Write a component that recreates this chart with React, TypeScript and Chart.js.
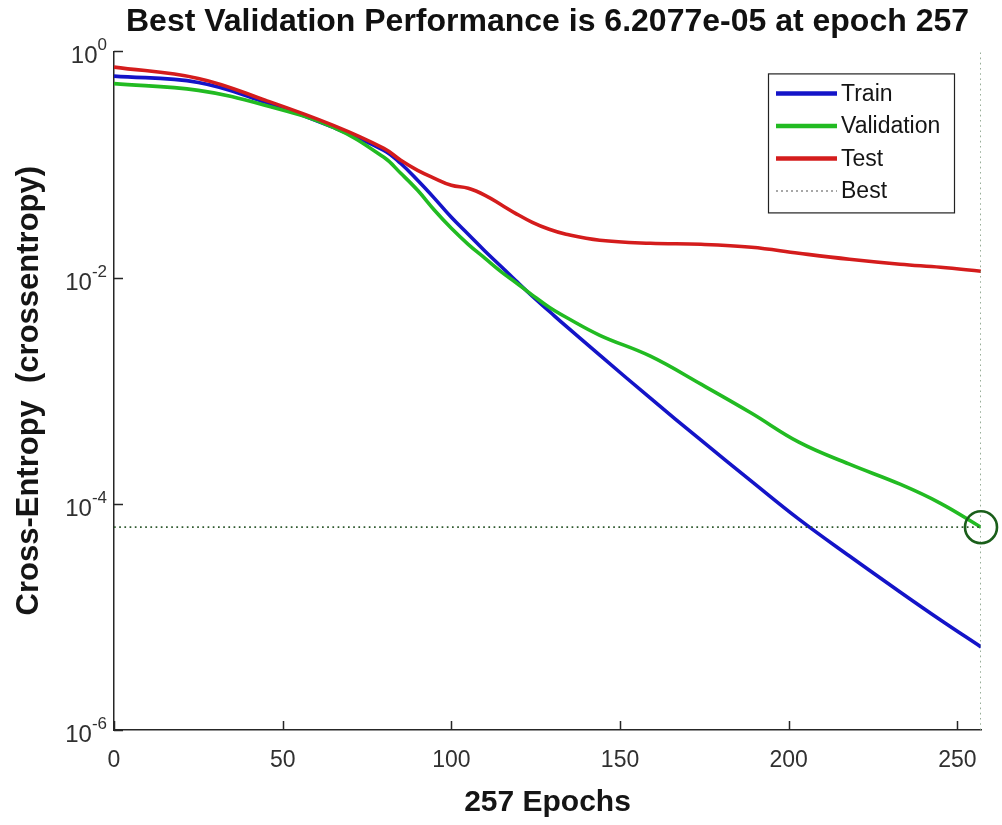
import React, { useEffect, useRef } from "react";
import { Chart, registerables } from "chart.js";

Chart.register(...registerables);

// ---------- data ----------
const epochs = [0, 25, 45, 65, 80, 85, 90, 95, 100, 105, 110, 115, 119, 124, 129, 134, 144, 159, 174, 189, 203, 218, 233, 245, 257];
const trainPerf = [0.605, 0.532, 0.354, 0.213, 0.1334, 0.102, 0.0725, 0.0502, 0.0341, 0.02415, 0.0171, 0.01234, 0.00946, 0.00684, 0.00504, 0.00372, 0.00206, 0.000859, 0.000365, 0.000158, 7.32e-5, 3.45e-5, 1.66e-5, 9.38e-6, 5.42e-6];
const validationPerf = [0.519, 0.452, 0.333, 0.213, 0.1157, 0.0836, 0.0591, 0.0394, 0.0273, 0.0197, 0.0148, 0.01114, 0.0091, 0.0070, 0.00547, 0.00446, 0.00309, 0.00202, 0.001142, 0.000632, 0.000351, 0.000224, 0.000149, 0.000101, 6.2077e-5];
const testPerf = [0.727, 0.577, 0.369, 0.222, 0.139, 0.109, 0.0888, 0.0755, 0.0655, 0.0616, 0.0534, 0.0436, 0.037, 0.0308, 0.02673, 0.02415, 0.02138, 0.0201, 0.0197, 0.01854, 0.0164, 0.01452, 0.01312, 0.01234, 0.01138];

const bestEpoch = 257;
const bestPerf = 6.2077e-5;
const maxEpoch = 257;

const xTickValues = [0, 50, 100, 150, 200, 250];
const yTickValues = [1e-6, 1e-4, 1e-2, 1];
const yTickExponents = ["-6", "-4", "-2", "0"];

const legendLabels = ["Train", "Validation", "Test", "Best"];

const titleText = "Best Validation Performance is 6.2077e-05 at epoch 257";
const xTitle = "257 Epochs";
const yTitle = "Cross-Entropy  (crossentropy)";

// ---------- styles ----------
const FONT = '"Liberation Sans", Arial, Helvetica, sans-serif';
const AXIS_COLOR = "#262626";
const TICK_TEXT = "#303030";
const COLORS = {
  train: "#1414c8",
  validation: "#22bb22",
  test: "#d41c1c",
  best: "#2f5a2f",
  bestV: "#7f9a7f",
  circle: "#1a5e1a",
};

const toPoints = (xs: number[], ys: number[]) => xs.map((x, i) => ({ x, y: ys[i] }));

const decorPlugin = {
  id: "matlabDecor",
  afterDraw(chart: any) {
    const ctx = chart.ctx as CanvasRenderingContext2D;
    const xs = chart.scales.x;
    const ys = chart.scales.y;
    const area = chart.chartArea;
    ctx.save();

    // inward tick marks
    ctx.strokeStyle = AXIS_COLOR;
    ctx.lineWidth = 1.5;
    ctx.beginPath();
    xTickValues.forEach((v) => {
      const px = Math.round(xs.getPixelForValue(v)) + 0.5;
      ctx.moveTo(px, area.bottom);
      ctx.lineTo(px, area.bottom - 9);
    });
    yTickValues.forEach((v) => {
      const py = Math.round(ys.getPixelForValue(v)) + 0.5;
      ctx.moveTo(area.left, py);
      ctx.lineTo(area.left + 9, py);
    });
    ctx.stroke();

    // y tick labels 10^n
    const baseFont = `24px ${FONT}`;
    const expFont = `17px ${FONT}`;
    ctx.fillStyle = TICK_TEXT;
    ctx.textBaseline = "alphabetic";
    ctx.textAlign = "left";
    yTickValues.forEach((v, i) => {
      const py = ys.getPixelForValue(v);
      const exp = yTickExponents[i];
      ctx.font = expFont;
      const ew = ctx.measureText(exp).width;
      ctx.font = baseFont;
      const bw = ctx.measureText("10").width;
      const right = area.left - 7;
      ctx.fillText("10", right - ew - bw, py + 12);
      ctx.font = expFont;
      ctx.fillText(exp, right - ew, py - 1);
    });

    // legend
    const ds = chart.data.datasets;
    const bw = 186;
    const bh = 139;
    const bx = area.right - 213;
    const by = area.top + 22;
    ctx.fillStyle = "#ffffff";
    ctx.fillRect(bx, by, bw, bh);
    ctx.strokeStyle = "#222";
    ctx.lineWidth = 1.2;
    ctx.strokeRect(bx + 0.5, by + 0.5, bw, bh);
    ctx.font = `23px ${FONT}`;
    ctx.textBaseline = "middle";
    ctx.textAlign = "left";
    legendLabels.forEach((lab, i) => {
      const ly = by + 20 + i * 32.5;
      const d = ds[i];
      ctx.beginPath();
      ctx.strokeStyle = i === 3 ? "#8a8a8a" : d.borderColor;
      ctx.lineWidth = i === 3 ? 1.5 : 4.5;
      ctx.setLineDash(i === 3 ? [2, 3] : []);
      ctx.moveTo(bx + 8, ly);
      ctx.lineTo(bx + 69, ly);
      ctx.stroke();
      ctx.setLineDash([]);
      ctx.fillStyle = "#151515";
      ctx.fillText(lab, bx + 73, ly + 1);
    });

    ctx.restore();
  },
};

export default function App() {
  const canvasRef = useRef<HTMLCanvasElement | null>(null);

  useEffect(() => {
    document.body.style.margin = "0";
    const canvas = canvasRef.current;
    if (!canvas) return;

    const curve = {
      borderWidth: 3.6,
      pointRadius: 0,
      tension: 0.4,
    };

    const chart = new Chart(canvas, {
      type: "line",
      data: {
        datasets: [
          {
            ...curve,
            label: legendLabels[0],
            data: toPoints(epochs, trainPerf),
            borderColor: COLORS.train,
            order: 5,
          },
          {
            ...curve,
            label: legendLabels[1],
            data: toPoints(epochs, validationPerf),
            borderColor: COLORS.validation,
            order: 4,
          },
          {
            ...curve,
            label: legendLabels[2],
            data: toPoints(epochs, testPerf),
            borderColor: COLORS.test,
            order: 3,
          },
          {
            label: legendLabels[3],
            data: [
              { x: 0, y: bestPerf },
              { x: maxEpoch, y: bestPerf },
            ],
            borderColor: COLORS.best,
            borderWidth: 1.7,
            borderDash: [1.7, 3.5],
            pointRadius: 0,
            order: 2,
          },
          {
            label: "bestV",
            data: [
              { x: bestEpoch, y: 1e-6 },
              { x: bestEpoch, y: 1 },
            ],
            borderColor: COLORS.bestV,
            borderWidth: 1.6,
            borderDash: [1.6, 3.6],
            pointRadius: 0,
            order: 2,
          },
          {
            label: "bestCircle",
            data: [{ x: bestEpoch, y: bestPerf }],
            showLine: false,
            clip: false,
            pointRadius: 16,
            pointBorderWidth: 2.6,
            pointBorderColor: COLORS.circle,
            pointBackgroundColor: "rgba(0,0,0,0)",
            order: 1,
          },
        ],
      } as any,
      options: {
        responsive: false,
        animation: false,
        devicePixelRatio: 1,
        layout: { padding: { top: 1, right: 21, left: 0, bottom: 0 } },
        plugins: {
          legend: { display: false },
          tooltip: { enabled: false },
          title: {
            display: true,
            fullSize: false,
            text: titleText,
            color: "#111",
            font: { family: FONT, size: 32, weight: "bold" },
            padding: { top: 2, bottom: 10 },
          },
        },
        scales: {
          x: {
            type: "linear",
            min: 0,
            max: maxEpoch,
            afterBuildTicks: (s: any) => {
              s.ticks = xTickValues.map((v) => ({ value: v }));
            },
            afterFit: (s: any) => {
              s.height = 95;
            },
            grid: { display: false },
            border: { display: true, color: AXIS_COLOR, width: 1.5 },
            ticks: {
              autoSkip: false,
              maxRotation: 0,
              color: TICK_TEXT,
              padding: 9,
              font: { family: FONT, size: 23 },
            },
            title: {
              display: true,
              text: xTitle,
              color: "#151515",
              font: { family: FONT, size: 30, weight: "bold" },
              padding: { top: 4, bottom: 4 },
            },
          },
          y: {
            type: "logarithmic",
            min: 1e-6,
            max: 1,
            afterBuildTicks: (s: any) => {
              s.ticks = yTickValues.map((v) => ({ value: v }));
            },
            afterFit: (s: any) => {
              s.width = 114;
            },
            grid: { display: false },
            border: { display: true, color: AXIS_COLOR, width: 1.5 },
            ticks: {
              callback: () => "",
              font: { family: FONT, size: 22 },
            },
            title: {
              display: true,
              text: yTitle,
              color: "#151515",
              font: { family: FONT, size: 31, weight: "bold" },
              padding: { top: 11, bottom: 11 },
            },
          },
        },
      } as any,
      plugins: [decorPlugin],
    });

    return () => chart.destroy();
  }, []);

  return (
    <div style={{ width: 1002, height: 825, background: "#fff" }}>
      <canvas ref={canvasRef} width={1002} height={825} style={{ display: "block", width: 1002, height: 825 }} />
    </div>
  );
}
